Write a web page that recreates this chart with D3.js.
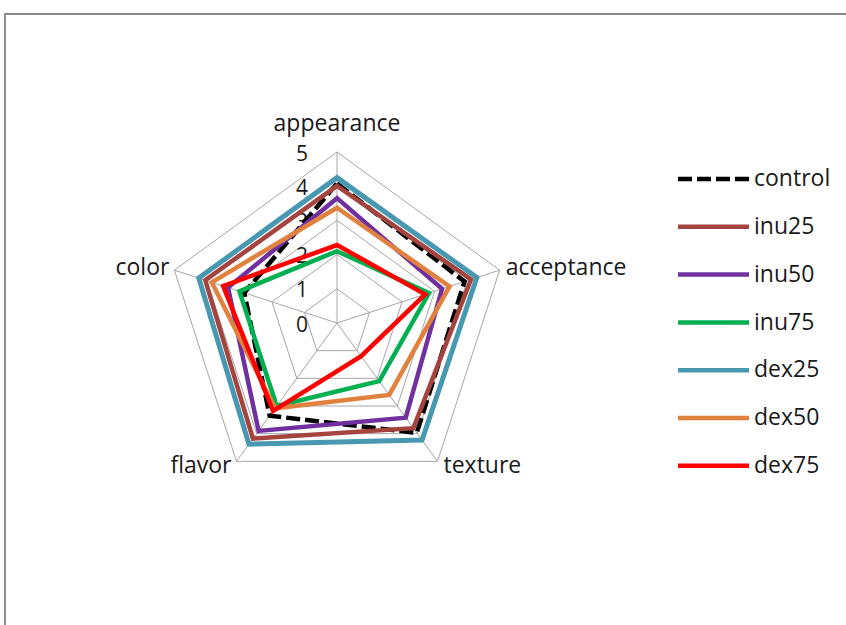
<!DOCTYPE html>
<html>
<head>
<meta charset="utf-8">
<script src="https://cdn.jsdelivr.net/npm/d3@7"></script>
<style>
  body { margin: 0; background: #fff; }
  svg text { font-family: "Open Sans", "Noto Sans", sans-serif; fill: #1a1a1a; }
</style>
</head>
<body>
<div id="chart"></div>
<script>
var axes, ticks, names, colors, control, inu25, inu50, inu75, dex25, dex50, dex75, values, svg, g, r, angle, cx, cy, radial, draw_grid, draw_series, draw_legend, setup;

axes = ["appearance", "acceptance", "texture", "flavor", "color"];
ticks = [0, 1, 2, 3, 4, 5];
names = ["control", "inu25", "inu50", "inu75", "dex25", "dex50", "dex75"];
colors = ["#000000", "#a5443e", "#7030a0", "#00b050", "#4798b0", "#e0823e", "#ff0000"];

// one value per axis, same order as axes
control = [4.08, 3.92, 3.97, 3.35, 2.85];
inu25 = [4.01, 4.12, 3.80, 4.18, 4.05];
inu50 = [3.65, 3.23, 3.42, 3.90, 3.35];
inu75 = [2.10, 2.83, 2.10, 3.00, 3.00];
dex25 = [4.25, 4.30, 4.23, 4.38, 4.25];
dex50 = [3.37, 3.46, 2.60, 3.08, 3.85];
dex75 = [2.28, 2.71, 1.20, 3.18, 3.50];

values = [control, inu25, inu50, inu75, dex25, dex50, dex75];

cx = 337;
cy = 323;
r = d3.scaleLinear().domain([0, 5]).range([0, 171]);
angle = function(i) {
  return i * 2 * Math.PI / axes.length;
};

radial = d3.lineRadial()
  .angle(function(d, i) { return angle(i); })
  .radius(function(d) { return r(d); })
  .curve(d3.curveLinearClosed);

draw_grid = function() {
  var grid;
  grid = g.append("g");
  grid.selectAll("path.ring").data(ticks.slice(1)).enter().append("path")
    .attr("class", "ring")
    .attr("d", function(t) { return radial(axes.map(function() { return t; })); })
    .attr("fill", "none").attr("stroke", "#a6a6a6").attr("stroke-width", 1);
  grid.selectAll("line.spoke").data(axes).enter().append("line")
    .attr("class", "spoke")
    .attr("x1", 0).attr("y1", 0)
    .attr("x2", function(d, i) { return r(5) * Math.sin(angle(i)); })
    .attr("y2", function(d, i) { return -r(5) * Math.cos(angle(i)); })
    .attr("stroke", "#a6a6a6").attr("stroke-width", 1);
  grid.selectAll("text.tick").data(ticks).enter().append("text")
    .attr("class", "tick")
    .attr("x", -29)
    .attr("y", function(t) { return -r(t) + 3; })
    .attr("text-anchor", "end")
    .attr("dominant-baseline", "middle")
    .attr("font-size", 21)
    .text(function(t) { return t; });
  return grid.selectAll("text.axis").data(axes).enter().append("text")
    .attr("class", "axis")
    .attr("font-size", 23)
    .attr("dominant-baseline", "middle")
    .attr("x", function(d, i) {
      var a = angle(i), x = r(5) * Math.sin(a);
      if (i === 0) return x;
      return x + (Math.sin(a) > 0 ? 6 : -5);
    })
    .attr("y", function(d, i) {
      var a = angle(i), y = -r(5) * Math.cos(a);
      if (i === 0) return y - 27;
      return y + (Math.cos(a) < 0 ? 6 : -1);
    })
    .attr("text-anchor", function(d, i) {
      if (i === 0) return "middle";
      return Math.sin(angle(i)) > 0 ? "start" : "end";
    })
    .text(function(d) { return d; });
};

draw_series = function() {
  return g.append("g").selectAll("path").data(values).enter().append("path")
    .attr("d", function(d) { return radial(d); })
    .attr("fill", "none")
    .attr("stroke", function(d, i) { return colors[i]; })
    .attr("stroke-width", function(d, i) { return i === 4 ? 5 : 4.5; })
    .attr("stroke-linejoin", "miter")
    .attr("stroke-dasharray", function(d, i) { return i === 0 ? "14,5" : null; });
};

draw_legend = function() {
  var leg, items;
  leg = svg.append("g").attr("transform", "translate(678,179)");
  items = leg.selectAll("g").data(names).enter().append("g")
    .attr("transform", function(d, i) { return "translate(0," + (i * 47.8) + ")"; });
  items.append("line")
    .attr("x1", 0).attr("x2", 71).attr("y1", 0).attr("y2", 0)
    .attr("stroke", function(d, i) { return colors[i]; })
    .attr("stroke-width", 4.5)
    .attr("stroke-dasharray", function(d, i) { return i === 0 ? "14,5" : null; });
  return items.append("text")
    .attr("x", 76).attr("y", 1)
    .attr("dominant-baseline", "middle")
    .attr("font-size", 23)
    .text(function(d) { return d; });
};

setup = function() {
  svg = d3.select("#chart").append("svg").attr("width", 846).attr("height", 625);
  svg.append("rect").attr("x", 5).attr("y", 14).attr("width", 900).attr("height", 700)
    .attr("fill", "#fff").attr("stroke", "#8c8c8c").attr("stroke-width", 2);
  g = svg.append("g").attr("transform", "translate(" + cx + "," + cy + ")");
  draw_grid();
  draw_series();
  return draw_legend();
};

setup();
</script>
</body>
</html>
